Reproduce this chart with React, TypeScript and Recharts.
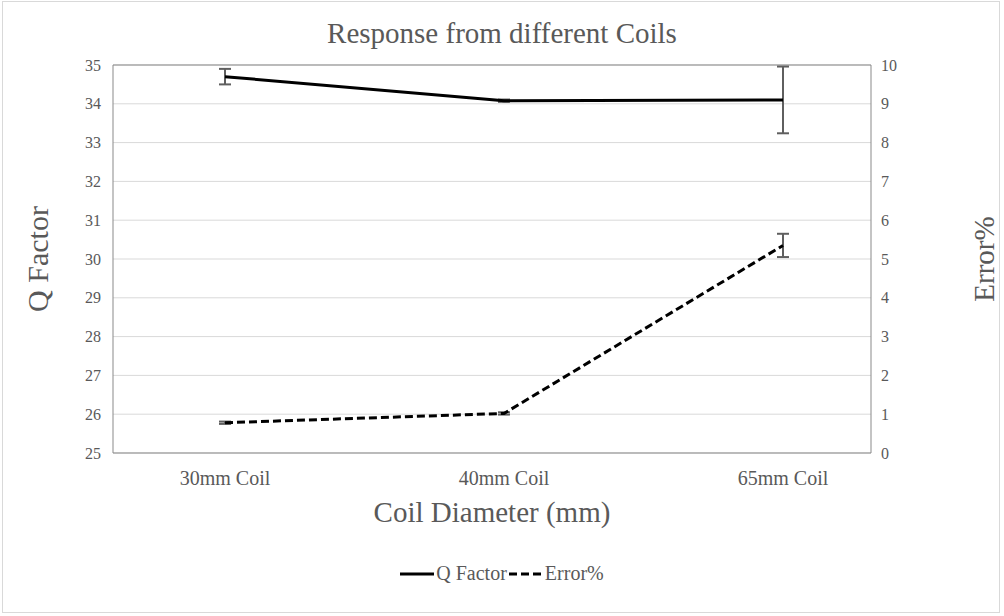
import React from 'react';
import { ComposedChart, Line, XAxis, YAxis, CartesianGrid, ErrorBar, ReferenceLine } from 'recharts';

const categories = ['30mm Coil', '40mm Coil', '65mm Coil'];
const qFactor = [34.7, 34.08, 34.1];
const qFactorErr = [0.2, 0.03, 0.86];
const errorPct = [0.78, 1.02, 5.35];
const errorPctErr = [0.03, 0.03, 0.3];
const leftTicks = [25, 26, 27, 28, 29, 30, 31, 32, 33, 34, 35];
const rightTicks = [0, 1, 2, 3, 4, 5, 6, 7, 8, 9, 10];

const data = categories.map((c, i) => ({
  name: c,
  q: qFactor[i],
  qErr: qFactorErr[i],
  e: errorPct[i],
  eErr: errorPctErr[i],
}));

const FONT = "'Liberation Serif', 'Times New Roman', serif";
const TXT = '#595959';

const LegendBlock = () => (
  <div style={{ position: 'absolute', left: 0, top: 562, width: 1004, display: 'flex', justifyContent: 'center', alignItems: 'center', fontFamily: FONT, fontSize: 20, color: TXT }}>
    <svg width={34} height={10}><line x1={0} y1={5} x2={34} y2={5} stroke="#000" strokeWidth={3} /></svg>
    <span style={{ marginLeft: 2, marginRight: 2 }}>Q Factor</span>
    <svg width={34} height={10}><line x1={0} y1={5} x2={34} y2={5} stroke="#000" strokeWidth={3} strokeDasharray="8 4" /></svg>
    <span style={{ marginLeft: 2 }}>Error%</span>
  </div>
);

export default function App() {
  return (
    <div style={{ position: 'absolute', left: 0, top: 0, width: 1004, height: 616, background: '#fff' }}>
      <div style={{ position: 'absolute', left: 2, top: 1, width: 998, height: 612, border: '1px solid #d9d9d9', boxSizing: 'border-box' }} />
      <div style={{ position: 'absolute', left: 0, top: 16, width: 1004, textAlign: 'center', fontFamily: FONT, fontSize: 29, color: TXT, lineHeight: '34px' }}>
        Response from different Coils
      </div>
      <div style={{ position: 'absolute', left: 38, top: 259, width: 0, height: 0 }}>
        <div style={{ position: 'absolute', transform: 'translate(-50%, -50%) rotate(-90deg)', whiteSpace: 'nowrap', fontFamily: FONT, fontSize: 30, color: TXT, lineHeight: '34px' }}>Q Factor</div>
      </div>
      <div style={{ position: 'absolute', left: 984, top: 259, width: 0, height: 0 }}>
        <div style={{ position: 'absolute', transform: 'translate(-50%, -50%) rotate(-90deg)', whiteSpace: 'nowrap', fontFamily: FONT, fontSize: 29, color: TXT, lineHeight: '34px' }}>Error%</div>
      </div>
      <ComposedChart width={1004} height={616} data={data} margin={{ top: 65, right: 0, left: 0, bottom: 0 }} style={{ fontFamily: FONT, position: 'absolute', left: 0, top: 0 }}>
        <CartesianGrid vertical={false} stroke="#d9d9d9" yAxisId="left" />
        <XAxis
          dataKey="name"
          scale="point"
          padding={{ left: 112, right: 88 }}
          height={163}
          tickSize={0}
          tickMargin={18}
          tick={{ fill: TXT, fontSize: 20, fontFamily: FONT }}
          axisLine={{ stroke: '#898989' }}
          label={{ value: 'Coil Diameter (mm)', position: 'insideTop', offset: 48, fill: TXT, fontSize: 29, fontFamily: FONT }}
        />
        <YAxis
          yAxisId="left"
          orientation="left"
          width={113}
          domain={[25, 35]}
          ticks={leftTicks}
          interval={0}
          tickSize={0}
          tickMargin={12}
          tick={{ fill: TXT, fontSize: 16, fontFamily: FONT }}
          axisLine={{ stroke: '#898989' }}
        />
        <YAxis
          yAxisId="right"
          orientation="right"
          width={133}
          domain={[0, 10]}
          ticks={rightTicks}
          interval={0}
          tickSize={0}
          tickMargin={10}
          tick={{ fill: TXT, fontSize: 16, fontFamily: FONT }}
          axisLine={{ stroke: '#898989' }}
        />
        <ReferenceLine yAxisId="left" y={35} stroke="#898989" />
        <Line yAxisId="left" dataKey="q" stroke="#000" strokeWidth={3} dot={false} isAnimationActive={false}>
          <ErrorBar dataKey="qErr" direction="y" width={6} stroke="#5f5f5f" strokeWidth={2} isAnimationActive={false} />
        </Line>
        <Line yAxisId="right" dataKey="e" stroke="#000" strokeWidth={3} strokeDasharray="8 4" dot={false} isAnimationActive={false}>
          <ErrorBar dataKey="eErr" direction="y" width={6} stroke="#5f5f5f" strokeWidth={2} isAnimationActive={false} />
        </Line>
      </ComposedChart>
      <LegendBlock />
    </div>
  );
}
